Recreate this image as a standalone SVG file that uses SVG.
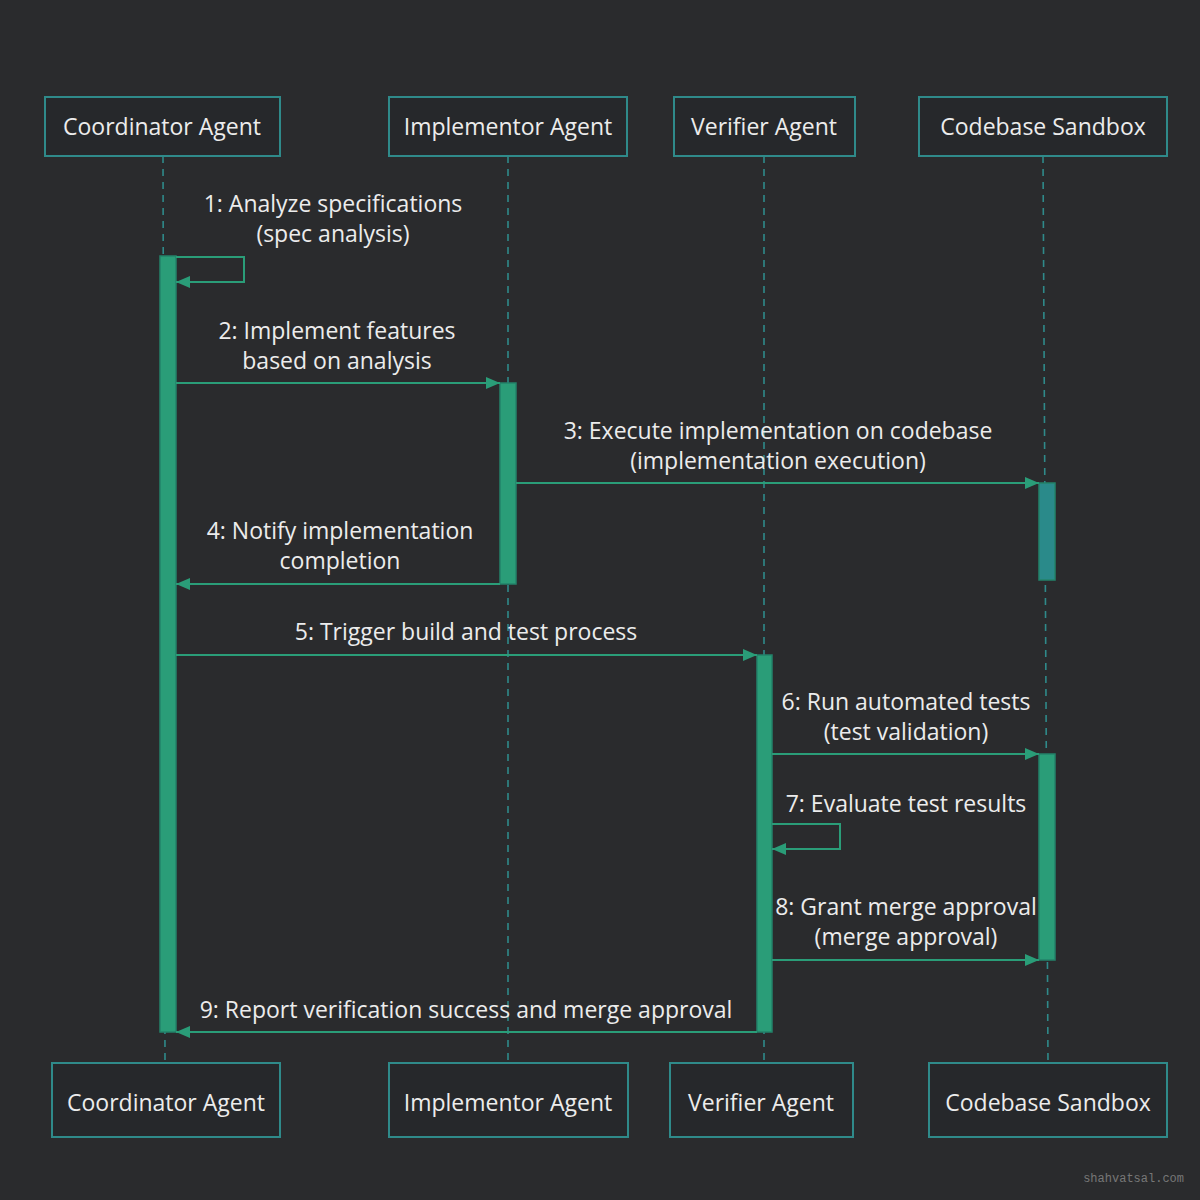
<svg xmlns="http://www.w3.org/2000/svg" width="1200" height="1200" viewBox="0 0 1200 1200">
<style>
.box{fill:#26282b;stroke:#2f8a8a;stroke-width:2}
.t{font-family:"Open Sans","Liberation Sans",sans-serif;font-size:23px;fill:#ececec;text-anchor:middle}
.life{stroke:#2f8a8a;stroke-width:1.6;stroke-dasharray:7 6;fill:none}
.act{fill:#2a9d78;stroke:#23836a;stroke-width:1.5}
.act2{fill:#2a8a8a;stroke:#23836a;stroke-width:1.5}
.msg{stroke:#2a9d78;stroke-width:2;fill:none;marker-end:url(#ah)}
</style>
<defs><marker id="ah" markerWidth="14" markerHeight="12" refX="14" refY="6" orient="auto" markerUnits="userSpaceOnUse"><path d="M0,0 L14,6 L0,12 Z" fill="#2a9d78"/></marker></defs>
<rect width="1200" height="1200" fill="#2a2b2d"/>
<g id="lifelines">
<line class="life" x1="163" y1="156" x2="165" y2="1063"/>
<line class="life" x1="508" y1="156" x2="508" y2="1063"/>
<line class="life" x1="764" y1="156" x2="764" y2="1063"/>
<line class="life" x1="1043" y1="156" x2="1048" y2="1063"/>
</g>
<g id="n-coord"><rect class="box" x="45" y="97" width="235" height="59"/><text class="t" x="162" y="135">Coordinator Agent</text></g>
<g id="n-impl"><rect class="box" x="389" y="97" width="238" height="59"/><text class="t" x="508" y="135">Implementor Agent</text></g>
<g id="n-ver"><rect class="box" x="674" y="97" width="181" height="59"/><text class="t" x="764" y="135">Verifier Agent</text></g>
<g id="n-code"><rect class="box" x="919" y="97" width="248" height="59"/><text class="t" x="1043" y="135">Codebase Sandbox</text></g>
<g id="n-coord-b"><rect class="box" x="52" y="1063" width="228" height="74"/><text class="t" x="166" y="1111">Coordinator Agent</text></g>
<g id="n-impl-b"><rect class="box" x="389" y="1063" width="239" height="74"/><text class="t" x="508" y="1111">Implementor Agent</text></g>
<g id="n-ver-b"><rect class="box" x="670" y="1063" width="183" height="74"/><text class="t" x="761" y="1111">Verifier Agent</text></g>
<g id="n-code-b"><rect class="box" x="929" y="1063" width="238" height="74"/><text class="t" x="1048" y="1111">Codebase Sandbox</text></g>
<g id="activations">
<rect class="act" x="160" y="256" width="16" height="776"/>
<rect class="act" x="500" y="383" width="16" height="201"/>
<rect class="act2" x="1039" y="483" width="16" height="97"/>
<rect class="act" x="757" y="655" width="15" height="377"/>
<rect class="act" x="1039" y="754" width="16" height="206"/>
</g>
<g id="connectors">
<path class="msg" d="M176,257 H244 V282 H176"/>
<path class="msg" d="M176,383 H500"/>
<path class="msg" d="M516,483 H1039"/>
<path class="msg" d="M500,584 H176"/>
<path class="msg" d="M176,655 H757"/>
<path class="msg" d="M772,754 H1039"/>
<path class="msg" d="M772,824 H840 V849 H772"/>
<path class="msg" d="M772,960 H1039"/>
<path class="msg" d="M757,1032 H176"/>
</g>
<g id="labels">
<text class="t" x="333" y="212">1: Analyze specifications</text><text class="t" x="333" y="242">(spec analysis)</text>
<text class="t" x="337" y="339">2: Implement features</text><text class="t" x="337" y="369">based on analysis</text>
<text class="t" x="778" y="439">3: Execute implementation on codebase</text><text class="t" x="778" y="469">(implementation execution)</text>
<text class="t" x="340" y="539">4: Notify implementation</text><text class="t" x="340" y="569">completion</text>
<text class="t" x="466" y="640">5: Trigger build and test process</text>
<text class="t" x="906" y="710">6: Run automated tests</text><text class="t" x="906" y="740">(test validation)</text>
<text class="t" x="906" y="812">7: Evaluate test results</text>
<text class="t" x="906" y="915">8: Grant merge approval</text><text class="t" x="906" y="945">(merge approval)</text>
<text class="t" x="466" y="1018">9: Report verification success and merge approval</text>
</g>
<text x="1184" y="1182" font-family="Liberation Mono,monospace" font-size="12" fill="#777" text-anchor="end">shahvatsal.com</text>
</svg>
